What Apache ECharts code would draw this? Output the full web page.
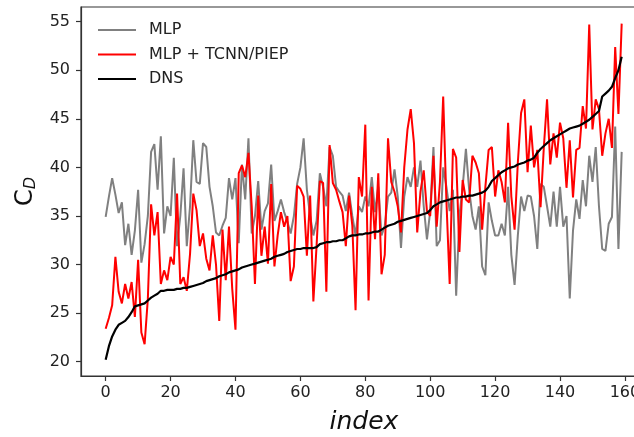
<!DOCTYPE html>
<html><head><meta charset="utf-8">
<script src="https://cdn.jsdelivr.net/npm/echarts@6/dist/echarts.min.js"></script>
<style>html,body{margin:0;padding:0;background:#fff}#c{width:634px;height:437px}</style>
</head><body><div id="c"></div>
<script>
const xTicks = [0,20,40,60,80,100,120,140,160];
const yTicks = [20,25,30,35,40,45,50,55];
const seriesNames = ['MLP','MLP + TCNN/PIEP','DNS'];

const mlp = [34.9,37.0,38.9,37.2,35.3,36.4,32.0,34.2,31.0,33.5,37.7,30.2,32.1,35.0,41.6,42.4,37.7,43.2,33.2,36.0,
35.0,41.0,31.9,35.0,39.9,31.9,36.0,42.8,38.5,38.3,42.5,42.1,38.0,36.0,33.3,33.0,34.0,34.8,38.9,36.7,
38.9,32.2,40.3,36.7,43.0,33.2,35.0,38.6,33.6,35.5,36.3,40.3,34.5,35.5,36.7,35.4,34.4,33.2,35.0,38.3,
40.0,43.0,37.7,35.0,33.0,34.5,39.4,38.0,36.0,42.1,41.2,38.0,37.5,37.1,35.5,37.4,35.0,33.0,36.0,35.4,
37.0,36.0,39.0,35.4,38.0,33.0,34.0,37.0,37.4,39.8,37.0,31.7,37.0,39.0,38.0,40.0,38.0,40.7,36.0,32.6,
35.5,42.1,31.9,32.5,40.0,38.0,35.5,37.7,26.8,35.0,38.0,41.9,37.7,35.0,33.6,36.0,29.8,28.9,36.4,34.5,
33.0,33.0,34.2,33.0,38.0,31.0,27.9,33.0,37.0,35.5,37.1,37.0,35.0,31.6,38.3,38.0,36.0,33.9,37.5,33.9,
38.0,33.9,35.0,26.5,33.5,36.7,34.7,38.7,36.0,41.2,38.5,42.1,36.0,31.6,31.4,34.2,34.9,44.2,31.6,41.6];

const mlpTcnn = [23.4,24.5,25.8,30.8,27.2,26.0,28.0,26.5,28.2,24.6,30.5,23.0,21.8,26.5,36.2,33.0,35.4,28.0,29.4,28.4,
30.8,30.0,37.3,28.0,28.7,27.3,31.1,37.3,35.6,31.9,33.2,30.6,29.4,33.0,30.0,24.2,33.6,28.4,33.9,27.5,
23.3,39.4,40.2,39.0,41.5,36.0,28.0,37.1,30.9,33.9,30.1,38.3,29.8,33.0,35.4,33.9,35.0,28.3,29.8,38.1,
37.8,37.0,30.9,37.1,26.2,32.0,38.6,38.4,27.2,42.3,38.4,37.7,36.5,35.4,31.9,37.1,34.0,25.3,39.0,37.0,
44.4,26.3,38.0,32.6,39.4,29.0,31.0,43.0,38.5,37.5,36.0,33.3,40.0,43.9,46.0,42.5,33.3,37.5,39.7,35.5,
35.0,41.2,33.9,38.5,47.3,36.5,28.0,41.9,41.0,31.3,38.7,36.7,36.4,41.2,40.5,39.4,33.6,38.0,41.8,42.1,
37.0,39.7,38.5,36.4,44.6,37.0,33.6,40.5,45.6,47.0,39.5,44.3,40.0,41.8,35.9,42.0,47.0,40.3,43.5,41.0,
44.6,43.0,37.9,42.8,36.9,41.8,42.0,46.3,44.0,54.7,43.9,47.0,46.0,41.2,43.5,45.0,42.0,52.4,45.5,54.8];

const dns = [20.2,21.6,22.6,23.3,23.8,24.0,24.2,24.6,25.1,25.7,25.8,25.9,26.0,26.3,26.6,26.8,27.0,27.3,27.3,27.4,
27.4,27.4,27.5,27.5,27.6,27.6,27.7,27.8,27.9,28.0,28.1,28.3,28.4,28.5,28.6,28.8,28.9,29.0,29.2,29.3,
29.4,29.5,29.7,29.8,29.9,30.0,30.1,30.2,30.3,30.4,30.5,30.6,30.8,30.9,31.0,31.1,31.3,31.4,31.5,31.6,
31.6,31.7,31.7,31.7,31.7,31.8,32.1,32.2,32.3,32.3,32.4,32.4,32.5,32.5,32.7,32.9,33.0,33.0,33.1,33.1,
33.2,33.2,33.3,33.4,33.4,33.6,33.8,34.0,34.1,34.2,34.4,34.5,34.6,34.7,34.8,34.9,35.0,35.1,35.2,35.3,
35.6,36.0,36.2,36.4,36.5,36.6,36.7,36.8,36.9,36.9,37.0,37.0,37.1,37.1,37.2,37.3,37.4,37.6,38.0,38.6,
38.9,39.2,39.5,39.7,39.9,40.0,40.1,40.3,40.4,40.5,40.7,40.8,41.0,41.5,41.9,42.2,42.5,42.8,43.0,43.2,
43.4,43.6,43.8,44.0,44.1,44.2,44.3,44.5,44.7,44.9,45.2,45.5,45.8,47.3,47.6,47.9,48.3,49.2,50.0,51.4];

const toPairs = arr => arr.map((v,i)=>[i,v]);
const chart = echarts.init(document.getElementById('c'), null, {renderer:'canvas'});
const font = 'DejaVu Sans';
chart.setOption({
  animation:false,
  backgroundColor:'#fff',
  grid:{left:81, top:7, width:566, height:369, outerBoundsMode:'none', containLabel:false,
        show:true, borderColor:'#333', borderWidth:1.2, backgroundColor:'transparent'},
  legend:{
    orient:'vertical', left:92, top:17, itemWidth:38, itemHeight:14, itemGap:8.5,
    itemStyle:{opacity:0},
    textStyle:{fontFamily:font, fontSize:16, color:'#222', padding:[0,0,0,8]},
    data:seriesNames
  },
  xAxis:{
    type:'value', min:-7.6, max:166.8,
    name:'index', nameLocation:'middle', nameGap:34,
    nameTextStyle:{fontFamily:font, fontSize:25, fontStyle:'italic', color:'#111'},
    axisLine:{show:true, onZero:false, lineStyle:{color:'#333', width:1.2}},
    axisTick:{show:true, length:5, lineStyle:{color:'#333', width:1.2}, customValues:xTicks},
    axisLabel:{fontFamily:font, fontSize:16, color:'#222', margin:9, customValues:xTicks},
    splitLine:{show:false}
  },
  yAxis:{
    type:'value', min:18.53, max:56.51,
    name:'{c|C}{d|D}', nameLocation:'middle', nameGap:40, nameRotate:90,
    nameTextStyle:{fontFamily:font, color:'#111', rich:{
      c:{fontFamily:font, fontSize:24, color:'#111'},
      d:{fontFamily:font, fontSize:16, fontStyle:'italic', color:'#111', verticalAlign:'bottom', padding:[10,0,0,0]}
    }},
    axisLine:{show:true, onZero:false, lineStyle:{color:'#333', width:1.2}},
    axisTick:{show:true, length:5, lineStyle:{color:'#333', width:1.2}, customValues:yTicks},
    axisLabel:{fontFamily:font, fontSize:16, color:'#222', margin:11, customValues:yTicks},
    splitLine:{show:false}
  },
  series:[
    {name:seriesNames[0], type:'line', data:toPairs(mlp), symbol:'none', lineStyle:{color:'#808080', width:2}, itemStyle:{color:'#808080'}, z:2},
    {name:seriesNames[1], type:'line', data:toPairs(mlpTcnn), symbol:'none', lineStyle:{color:'#ff0000', width:2}, itemStyle:{color:'#ff0000'}, z:3},
    {name:seriesNames[2], type:'line', data:toPairs(dns), symbol:'none', lineStyle:{color:'#000000', width:2.2}, itemStyle:{color:'#000000'}, z:4}
  ]
});
</script></body></html>
